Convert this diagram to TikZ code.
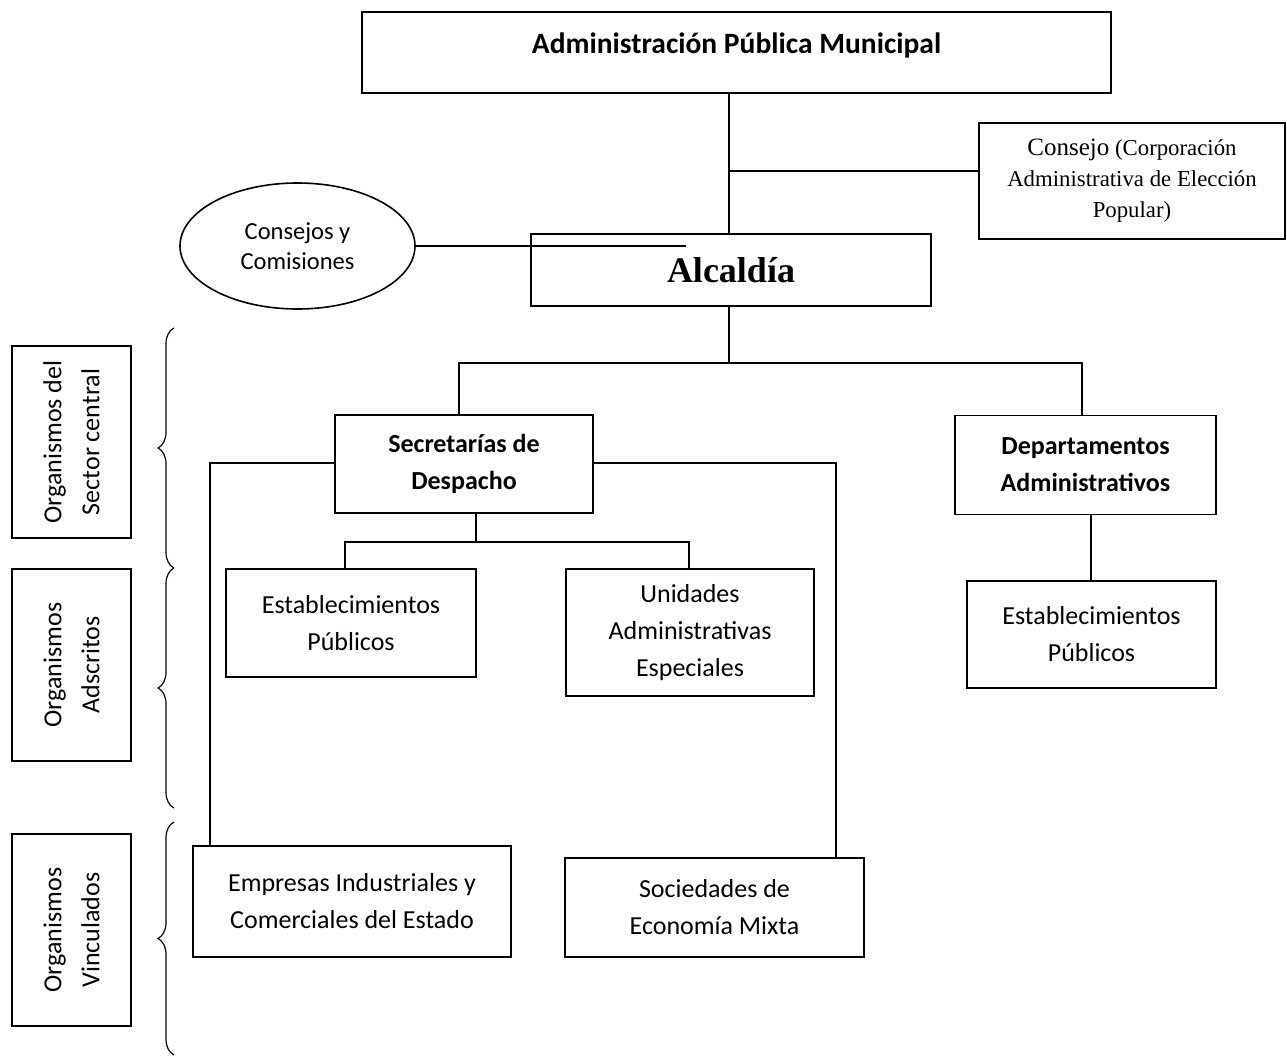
\documentclass[tikz,border=0pt]{standalone}
\usepackage{fontspec}
\setmainfont{Carlito}
\newfontfamily\garfont{Liberation Serif}
\usetikzlibrary{shapes.geometric,decorations.pathreplacing}
\begin{document}
\begin{tikzpicture}[x=1pt,y=-1pt,
  every node/.style={inner sep=0pt, align=center},
  box/.style={draw, line width=1.6pt, rectangle, font=\fontsize{26}{37}\selectfont},
  boldbox/.style={box, font=\bfseries\fontsize{26}{37}\selectfont},
  sidebox/.style={box, rotate=90, minimum width=192pt, minimum height=119pt, font=\fontsize{26}{38}\selectfont},
  conn/.style={line width=1.6pt},
  brc/.style={line width=1.2pt, decorate, decoration={brace, amplitude=16pt}},
]
\useasboundingbox (0,0) rectangle (1287,1059);

% main boxes
\node[box, minimum width=749pt, minimum height=81pt, text depth=19pt, font=\bfseries\fontsize{29.5}{35}\selectfont] (top) at (736.5,52.5) {Administración Pública Municipal};
\node[box, minimum width=306pt, minimum height=116pt, font=\garfont\fontsize{22.8}{31}\selectfont] (consejo) at (1132,181) {{\fontsize{25}{31}\selectfont Consejo} (Corporación\\Administrativa de Elección\\Popular)};
\node[draw, ellipse, line width=1.6pt, minimum width=235pt, minimum height=126pt, font=\fontsize{24.5}{30}\selectfont] (ell) at (297.5,246) {Consejos y\\Comisiones};
\node[box, minimum width=400pt, minimum height=72pt, font=\garfont\bfseries\fontsize{36}{40}\selectfont] (alc) at (731,270) {Alcaldía};
\node[boldbox, minimum width=258pt, minimum height=98pt] (sec) at (464,464) {Secretarías de\\Despacho};
\node[boldbox, minimum width=261pt, minimum height=99pt] (dep) at (1085.5,465) {Departamentos\\Administrativos};
\node[box, minimum width=250pt, minimum height=108pt] (est1) at (351,623) {Establecimientos\\Públicos};
\node[box, minimum width=248pt, minimum height=127pt] (uni) at (690,632.5) {Unidades\\Administrativas\\Especiales};
\node[box, minimum width=249pt, minimum height=107pt] (est2) at (1091.5,634.5) {Establecimientos\\Públicos};
\node[box, minimum width=318pt, minimum height=111pt] (emp) at (352,901.5) {Empresas Industriales y\\Comerciales del Estado};
\node[box, minimum width=299pt, minimum height=99pt] (soc) at (714.5,907.5) {Sociedades de\\Economía Mixta};

% side labels
\node[sidebox] (l1) at (71.5,442) {Organismos del\\Sector central};
\node[sidebox] (l2) at (71.5,665) {Organismos\\Adscritos};
\node[sidebox] (l3) at (71.5,930) {Organismos\\Vinculados};

% braces
\draw[brc] (174,568) -- (174,328);
\draw[brc] (174,808) -- (174,568);
\draw[brc] (174,1055) -- (174,822);

% connector helper coordinates
\coordinate (xa) at (729,0);
\coordinate (ya) at (0,171);
\coordinate (le) at (686,0);
\coordinate (yb) at (0,363);
\coordinate (xl) at (459,0);
\coordinate (xr) at (1082,0);
\coordinate (yc) at (0,463);
\coordinate (xL) at (210,0);
\coordinate (xR) at (836,0);
\coordinate (xs) at (476,0);
\coordinate (yd) at (0,542);
\coordinate (x1) at (345,0);
\coordinate (x2) at (689,0);
\coordinate (xd) at (1091,0);

% connectors
\draw[conn] (top.south -| xa) -- (alc.north -| xa);
\draw[conn] (xa |- ya) -- (consejo.west |- ya);
\draw[conn] (ell.east) -- (le |- ell.east);
\draw[conn] (alc.south -| xa) -- (xa |- yb);
\draw[conn] (sec.north -| xl) -- (xl |- yb) -- (xr |- yb) -- (dep.north -| xr);
\draw[conn] (sec.west |- yc) -- (xL |- yc) -- (emp.north -| xL);
\draw[conn] (sec.east |- yc) -- (xR |- yc) -- (soc.north -| xR);
\draw[conn] (sec.south -| xs) -- (xs |- yd);
\draw[conn] (est1.north -| x1) -- (x1 |- yd) -- (x2 |- yd) -- (uni.north -| x2);
\draw[conn] (dep.south -| xd) -- (est2.north -| xd);
\end{tikzpicture}
\end{document}
